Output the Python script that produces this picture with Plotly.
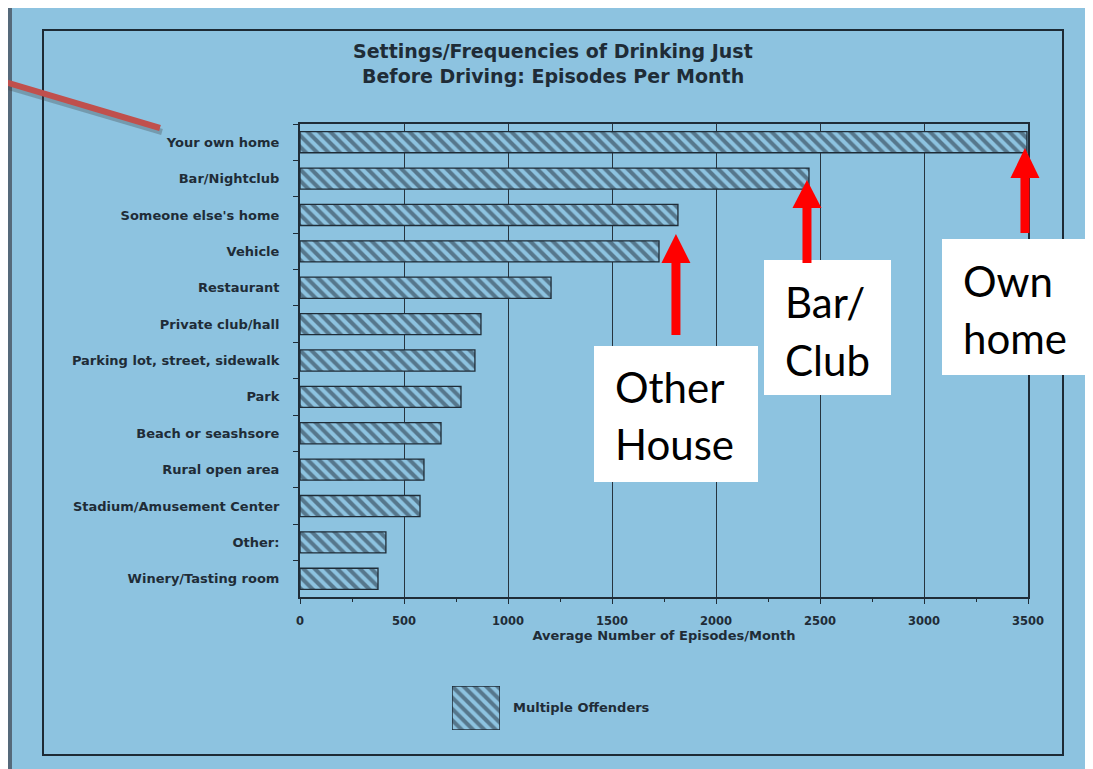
import plotly.graph_objects as go

# ---------------- data ----------------
categories = [
    "Your own home", "Bar/Nightclub", "Someone else's home", "Vehicle",
    "Restaurant", "Private club/hall", "Parking lot, street, sidewalk", "Park",
    "Beach or seashsore", "Rural open area", "Stadium/Amusement Center",
    "Other:", "Winery/Tasting room",
]
episodes = [3495, 2447, 1817, 1726, 1207, 870, 841, 774, 678, 596, 577, 413, 375]
x_ticks = [0, 500, 1000, 1500, 2000, 2500, 3000, 3500]
series_name = "Multiple Offenders"
title_lines = ["Settings/Frequencies of Drinking Just", "Before Driving: Episodes Per Month"]
x_title = "Average Number of Episodes/Month"
callout_lines = [["Other", "House"], ["Bar/", "Club"], ["Own", "home"]]
callout_targets = ["Someone else's home", "Bar/Nightclub", "Your own home"]

# ---------------- layout constants (page pixels) ----------------
OFF = 8                      # page body margin
W, H = 1093 - 2 * OFF, 769   # figure size
XMAX = 3500
PLOT_L, PLOT_R, PLOT_T, PLOT_B = 300, 1028, 124, 597

def px(x):
    return (x - OFF) / W

def py(y):
    return 1 - (y - OFF) / H

BLUE = "#8dc3e0"
YELLOW = "#fffbcb"
INK = "#1f2c37"
RED = "#ff0000"
WIDE = "DejaVu Sans"

callout_layout = [
    dict(box=(594, 346, 758, 482), tx=613, ty=[387, 444], tip=234, base=263, tail=335),
    dict(box=(764, 260, 891, 395), tx=783, ty=[302, 360], tip=180, base=208, tail=263),
    dict(box=(942, 239, 1110, 375), tx=961, ty=[281, 338], tip=148, base=178, tail=233),
]

fig = go.Figure()

fig.add_trace(go.Bar(
    x=episodes, y=categories, orientation="h", name=series_name,
    marker=dict(
        color=BLUE,
        line=dict(color=INK, width=1.3),
        pattern=dict(shape="\\", fgcolor=INK, size=8, solidity=0.5),
    ),
    showlegend=False,
))

# legend swatch drawn on a small dedicated axis
fig.add_trace(go.Bar(
    x=[1], y=[0], orientation="h", width=1, name=series_name,
    xaxis="x2", yaxis="y2", showlegend=False,
    marker=dict(
        color=BLUE,
        line=dict(color=INK, width=1.5),
        pattern=dict(shape="\\", fgcolor=INK, size=8, solidity=0.5),
    ),
))

shapes = []
shapes.append(dict(type="rect", xref="paper", yref="paper", x0=px(10), y0=py(5), x1=1.02, y1=-0.02,
                   fillcolor=BLUE, line=dict(color="#55697a", width=4), layer="below"))
shapes.append(dict(type="rect", xref="paper", yref="paper", x0=px(43), y0=py(30), x1=px(1063), y1=py(755),
                   fillcolor="rgba(0,0,0,0)", line=dict(color="#1d2a35", width=2), layer="below"))
shapes.append(dict(type="line", xref="paper", yref="paper", x0=px(-2), y0=py(84), x1=px(162), y1=py(132),
                   line=dict(color="rgba(60,60,60,0.3)", width=6), layer="above"))
shapes.append(dict(type="line", xref="paper", yref="paper", x0=px(-2), y0=py(80), x1=px(160), y1=py(128),
                   line=dict(color="#c0504d", width=6), layer="above"))

annotations = []
for lines, target, lay in zip(callout_lines, callout_targets, callout_layout):
    x0, y0, x1, y1 = lay["box"]
    shapes.append(dict(type="rect", xref="paper", yref="paper", x0=px(x0), y0=py(y0), x1=px(x1), y1=py(y1),
                       fillcolor="white", line=dict(width=0), layer="above"))
    for text, ty in zip(lines, lay["ty"]):
        annotations.append(dict(text=text, xref="paper", yref="paper", x=px(lay["tx"]), y=py(ty),
                                xanchor="left", yanchor="middle", showarrow=False,
                                font=dict(family="Lato", size=42, color="black")))
    val = episodes[categories.index(target)]
    tip_px = PLOT_L + val / XMAX * (PLOT_R - PLOT_L) - 2
    hw, sw = 14.5, 4.5
    shapes.append(dict(type="rect", xref="paper", yref="paper",
                       x0=px(tip_px - sw), x1=px(tip_px + sw), y0=py(lay["base"] - 1), y1=py(lay["tail"]),
                       fillcolor=RED, line=dict(width=0), layer="above"))
    path = (f"M {px(tip_px)} {py(lay['tip'])} L {px(tip_px - hw)} {py(lay['base'])} "
            f"L {px(tip_px + hw)} {py(lay['base'])} Z")
    shapes.append(dict(type="path", xref="paper", yref="paper", path=path,
                       fillcolor=RED, line=dict(width=0), layer="above"))

for text, ty in zip(title_lines, [51, 76]):
    annotations.append(dict(text=text, xref="paper", yref="paper", x=px(553), y=py(ty),
                            xanchor="center", yanchor="middle", showarrow=False,
                            font=dict(family=WIDE, size=19, color=INK, weight="bold")))
annotations.append(dict(text=series_name, xref="paper", yref="paper", x=px(511), y=py(707),
                        xanchor="left", yanchor="middle", showarrow=False,
                        font=dict(family=WIDE, size=13, color=INK, weight="bold")))

fig.update_layout(
    width=W, height=H,
    margin=dict(l=0, r=0, t=0, b=0, autoexpand=False),
    paper_bgcolor=YELLOW,
    plot_bgcolor="rgba(0,0,0,0)",
    bargap=0.42,
    showlegend=False,
    font=dict(family="Liberation Sans", color=INK),
    xaxis=dict(
        domain=[px(PLOT_L), px(PLOT_R)], range=[0, XMAX], tickvals=x_ticks,
        showgrid=True, gridcolor="#26343f", gridwidth=1, zeroline=False,
        showline=True, linecolor=INK, linewidth=2, mirror=True,
        ticks="outside", ticklen=5, tickcolor=INK, ticklabelstandoff=7,
        minor=dict(ticks="outside", ticklen=3, dtick=250, tickcolor=INK, showgrid=False),
        tickfont=dict(family=WIDE, size=11.5, color=INK, weight="bold"),
        title=dict(text=x_title, standoff=1,
                   font=dict(family=WIDE, size=13, color=INK, weight="bold")),
        anchor="y", automargin=False,
    ),
    yaxis=dict(
        domain=[py(PLOT_B), py(PLOT_T)], type="category",
        categoryorder="array", categoryarray=categories, autorange="reversed",
        showline=True, linecolor=INK, linewidth=2, mirror=True,
        ticks="outside", ticklen=5, tickcolor=INK, tickson="boundaries",
        ticklabelstandoff=16, showgrid=False,
        tickfont=dict(family=WIDE, size=13, color=INK, weight="bold"),
        anchor="x", automargin=False,
    ),
    xaxis2=dict(domain=[px(452), px(500)], range=[0, 1], visible=False, anchor="y2", fixedrange=True),
    yaxis2=dict(domain=[py(730), py(686)], range=[-0.5, 0.5], visible=False, anchor="x2", fixedrange=True),
    shapes=shapes,
    annotations=annotations,
)

fig.write_html("out.html")
